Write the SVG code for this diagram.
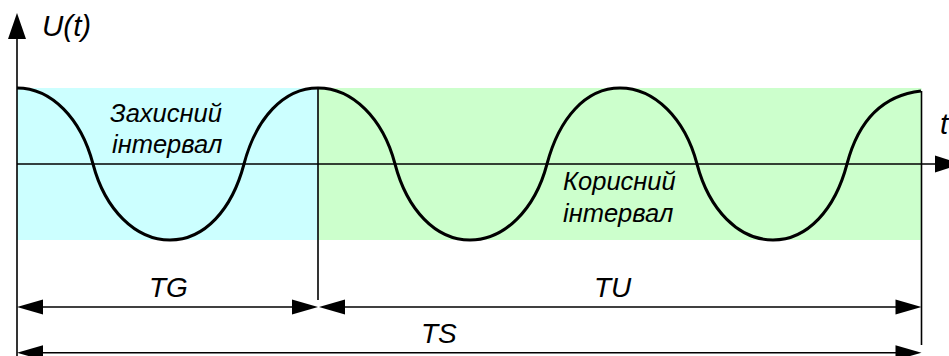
<svg xmlns="http://www.w3.org/2000/svg" width="949" height="356" viewBox="0 0 949 356">
<style>
.ax{stroke:#000;stroke-width:1.6;fill:none}
.dim{stroke:#000;stroke-width:1.6;fill:none}
.wave{stroke:#000;stroke-width:3;fill:none;stroke-linejoin:round}
.lbl{font-family:"Liberation Sans",Arial,sans-serif;font-style:italic;fill:#000}
.big{font-size:28px}
.axl{font-size:29.5px}
.mid{font-size:25.5px}
.ah{fill:#000}
</style>
<g id="regions">
<rect id="guard" x="17" y="88" width="301" height="152" fill="#CCFFFF"/>
<rect id="useful" x="318" y="88" width="603.5" height="152" fill="#CCFFCC"/>
</g>
<g id="axes">
<line class="ax" x1="17" y1="30" x2="17" y2="356"/>
<polygon class="ah" points="17,13 8,39 26,39"/>
<line class="ax" x1="17" y1="164" x2="940" y2="164"/>
<polygon class="ah" points="961,164 935,155.5 935,172.5"/>
<text class="lbl axl" x="42" y="36">U(t)</text>
<text class="lbl axl" x="940" y="134">t</text>
</g>
<g id="wave">
<path class="wave" d="M17,88 C51.5,88 81,118.4 93,164 C105,209.6 135.5,240 170,240 C204.5,240 232,209.6 244,164 C256,118.4 283.5,88 318,88 C352.5,88 383,118.4 395,164 C407,209.6 435.5,240 470,240 C504.5,240 535,209.6 547,164 C559,118.4 585.5,88 620,88 C654.5,88 685,118.4 697,164 C709,209.6 738.5,240 773,240 C807.5,240 835,209.6 847,164 C859,118.4 885,95 921,91"/>
</g>
<g id="guard-label">
<text class="lbl mid" x="110" y="122">Захисний</text>
<text class="lbl mid" x="112" y="153">інтервал</text>
</g>
<g id="useful-label">
<text class="lbl mid" x="563" y="190">Корисний</text>
<text class="lbl mid" x="563" y="222">інтервал</text>
</g>
<g id="connectors">
<line class="dim" x1="318" y1="88" x2="318" y2="300"/>
<line class="dim" x1="921.5" y1="91" x2="921.5" y2="345"/>
<line class="dim" x1="40" y1="307" x2="296" y2="307"/>
<polygon class="ah" points="17,307 43,299.5 43,314.5"/>
<polygon class="ah" points="318,307 292,299.5 292,314.5"/>
<line class="dim" x1="340" y1="307" x2="900" y2="307"/>
<polygon class="ah" points="319,307 345,299.5 345,314.5"/>
<polygon class="ah" points="921.5,307 895.5,299.5 895.5,314.5"/>
<line class="dim" x1="40" y1="352.7" x2="900" y2="352.7"/>
<polygon class="ah" points="17,352.7 43,345.2 43,360.2"/>
<polygon class="ah" points="921.5,352.7 895.5,345.2 895.5,360.2"/>
</g>
<g id="dim-labels">
<text class="lbl big" x="149" y="297">TG</text>
<text class="lbl big" x="594" y="297">TU</text>
<text class="lbl big" x="421" y="343">TS</text>
</g>
</svg>
